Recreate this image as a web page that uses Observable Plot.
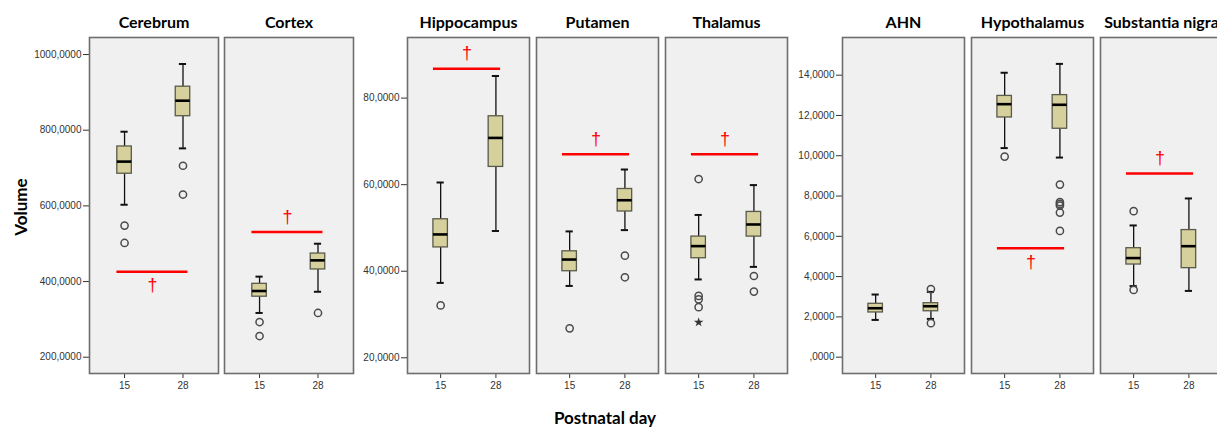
<!DOCTYPE html>
<html>
<head>
<meta charset="utf-8">
<script src="https://cdn.jsdelivr.net/npm/d3@7"></script>
<script src="https://cdn.jsdelivr.net/npm/@observablehq/plot@0.6"></script>
<style>
  html, body { margin: 0; padding: 0; background: #fff; }
  body { width: 1217px; height: 428px; overflow: hidden; position: relative; font-family: "Liberation Sans", Arial, sans-serif; }
  .grp { position: absolute; top: 0; }
  .grp svg { max-width: none !important; }
  .lbl { position: absolute; font-family: Lato, "Open Sans", sans-serif; font-weight: bold; font-size: 17px; color: #000; white-space: nowrap; }
</style>
</head>
<body>
<div id="g1" class="grp" style="left:0px; width:360px"></div>
<div id="g2" class="grp" style="left:360px; width:435px"></div>
<div id="g3" class="grp" style="left:790px; width:433px"></div>
<div class="lbl" style="left:20px; top:207px; transform: translate(-50%,-50%) rotate(-90deg);">Volume</div>
<div class="lbl" style="left:605px; top:417px; transform: translate(-50%,-50%);">Postnatal day</div>
<script>
// ---------- data ----------
const regions = ["Cerebrum", "Cortex", "Hippocampus", "Putamen", "Thalamus", "AHN", "Hypothalamus", "Substantia nigra"];
const days = [15, 28];
const groupOf = [0, 0, 1, 1, 1, 2, 2, 2];

// per region: [day 15, day 28]
const whiskerLow  = [[603, 752], [317, 373], [37.3, 49.3], [36.6, 49.5], [38.1, 41.0], [1.85, 1.90], [10.38, 9.91], [3.53, 3.29]];
const q1          = [[685, 837], [360, 432], [45.5, 64.1], [40.0, 53.8], [43.0, 48.0], [2.22, 2.28], [11.90, 11.34], [4.60, 4.42]];
const median      = [[717, 878], [375, 456], [48.5, 70.8], [42.7, 56.4], [45.8, 50.8], [2.43, 2.53], [12.56, 12.53], [4.92, 5.51]];
const q3          = [[757, 915], [394, 474], [52.0, 75.8], [44.6, 59.0], [48.0, 53.7], [2.65, 2.68], [12.97, 13.01], [5.41, 6.31]];
const whiskerHigh = [[796, 975], [413, 500], [60.5, 85.1], [49.2, 63.5], [53.0, 59.9], [3.11, 3.24], [14.12, 14.56], [6.54, 7.88]];
const outliers = [
  [[548, 502], [706, 630]],
  [[293, 256], [317]],
  [[32.1], []],
  [[26.8], [43.6, 38.6]],
  [[61.3, 34.3, 33.5, 31.7], [38.9, 35.3]],
  [[], [3.38, 1.69]],
  [[9.96], [8.57, 7.70, 7.61, 7.53, 7.18, 6.27]],
  [[7.25, 3.34], []]
];
const extremes = [[[], []], [[], []], [[], []], [[], []], [[28.2], []], [[], []], [[], []], [[], []]];

// significance bars (†): level and side of the dagger
const sigLevel = [426, 531, 86.8, 67.0, 67.0, null, 5.41, 9.12];
const sigSide  = ["below", "above", "above", "above", "above", null, "below", "above"];

// y axes per group
const yDomains = [[157, 1045], [16.37, 94.0], [-0.81, 15.87]];
const yTicks = [[200, 400, 600, 800, 1000], [20, 40, 60, 80], [0, 2, 4, 6, 8, 10, 12, 14]];

// ---------- tables ----------
const boxes = [], outs = [], exts = [], sigs = [];
regions.forEach((r, i) => {
  days.forEach((d, j) => {
    boxes.push({region: r, g: groupOf[i], day: d, lo: whiskerLow[i][j], q1: q1[i][j], med: median[i][j], q3: q3[i][j], hi: whiskerHigh[i][j]});
    outliers[i][j].forEach(v => outs.push({region: r, g: groupOf[i], day: d, v}));
    extremes[i][j].forEach(v => exts.push({region: r, g: groupOf[i], day: d, v}));
  });
  if (sigLevel[i] != null) sigs.push({region: r, g: groupOf[i], y: sigLevel[i], side: sigSide[i]});
});

const fmt = d => (d === 0 ? "" : String(d)) + ",0000";
const boxFill = "#d6d09c";
const boxStroke = "#5a5a4a";
const xDomain = [7.2, 35.9];
const sigX1 = 13.3, sigX2 = 29.1, sigMid = 21.2;
const halfBox = 7.25, halfCap = 3.6;

const layout = [
  {el: "g1", width: 360, marginLeft: 88, marginRight: 6},
  {el: "g2", width: 435, marginLeft: 47, marginRight: 7},
  {el: "g3", width: 433, marginLeft: 52, marginRight: 0}
];

layout.forEach((L, g) => {
  const B = boxes.filter(d => d.g === g);
  const O = outs.filter(d => d.g === g);
  const E = exts.filter(d => d.g === g);
  const S = sigs.filter(d => d.g === g);
  const fxDomain = regions.filter((r, i) => groupOf[i] === g);
  const n = fxDomain.length;
  const chart = Plot.plot({
    width: L.width,
    height: 400,
    marginLeft: L.marginLeft,
    marginRight: L.marginRight,
    marginTop: 37,
    marginBottom: 27,
    style: {background: "transparent", fontFamily: "'Liberation Sans', Arial, sans-serif", color: "#333", overflow: "visible", maxWidth: "none"},
    fx: {domain: fxDomain, paddingInner: n === 2 ? 0.0441 : 0.052, paddingOuter: 0, label: null},
    x: {domain: xDomain, label: null},
    y: {domain: yDomains[g], label: null},
    marks: [
      Plot.frame({fill: "#f0f0f0", stroke: "none"}),
      Plot.axisFx({anchor: "top", tickSize: 0, tickPadding: 10, label: null, fontSize: 16, fontWeight: "bold", fontFamily: "Lato, 'Open Sans', sans-serif", fill: "#000"}),
      Plot.axisX({ticks: days, tickSize: 5, tickPadding: 3, label: null, fontSize: 10, stroke: "#333", fill: "#333"}),
      Plot.axisY({ticks: yTicks[g], tickFormat: fmt, tickSize: 6, tickPadding: 2, label: null, fontSize: 10, stroke: "#333", fill: "#333"}),
      // whiskers
      Plot.ruleX(B, {fx: "region", x: "day", y1: "lo", y2: "q1", stroke: "#111", strokeWidth: 1.3}),
      Plot.ruleX(B, {fx: "region", x: "day", y1: "q3", y2: "hi", stroke: "#111", strokeWidth: 1.3}),
      Plot.ruleY(B, {fx: "region", x1: "day", x2: "day", y: "lo", insetLeft: -halfCap, insetRight: -halfCap, stroke: "#111", strokeWidth: 2}),
      Plot.ruleY(B, {fx: "region", x1: "day", x2: "day", y: "hi", insetLeft: -halfCap, insetRight: -halfCap, stroke: "#111", strokeWidth: 2}),
      // boxes
      Plot.rect(B, {fx: "region", x1: "day", x2: "day", y1: "q1", y2: "q3", insetLeft: -halfBox, insetRight: -halfBox, fill: boxFill, stroke: boxStroke, strokeWidth: 1.3}),
      // medians
      Plot.ruleY(B, {fx: "region", x1: "day", x2: "day", y: "med", insetLeft: -halfBox, insetRight: -halfBox, stroke: "#000", strokeWidth: 2.6}),
      // outliers
      Plot.dot(O, {fx: "region", x: "day", y: "v", r: 3.6, stroke: "#4a4a4a", strokeWidth: 1.5, fill: "none"}),
      Plot.dot(E, {fx: "region", x: "day", y: "v", r: 3, symbol: "star", fill: "#333", stroke: "none"}),
      // significance
      Plot.ruleY(S, {fx: "region", y: "y", x1: () => sigX1, x2: () => sigX2, stroke: "#ff0000", strokeWidth: 2.5}),
      Plot.text(S.filter(d => d.side === "above"), {fx: "region", x: () => sigMid, y: "y", text: () => "†", dy: -15, fill: "#ff0000", fontSize: 18}),
      Plot.text(S.filter(d => d.side === "below"), {fx: "region", x: () => sigMid, y: "y", text: () => "†", dy: 14, fill: "#ff0000", fontSize: 18}),
      Plot.frame({stroke: "#6e6e6e", strokeWidth: 1.6})
    ]
  });
  document.getElementById(L.el).appendChild(chart);
});
</script>
</body>
</html>
